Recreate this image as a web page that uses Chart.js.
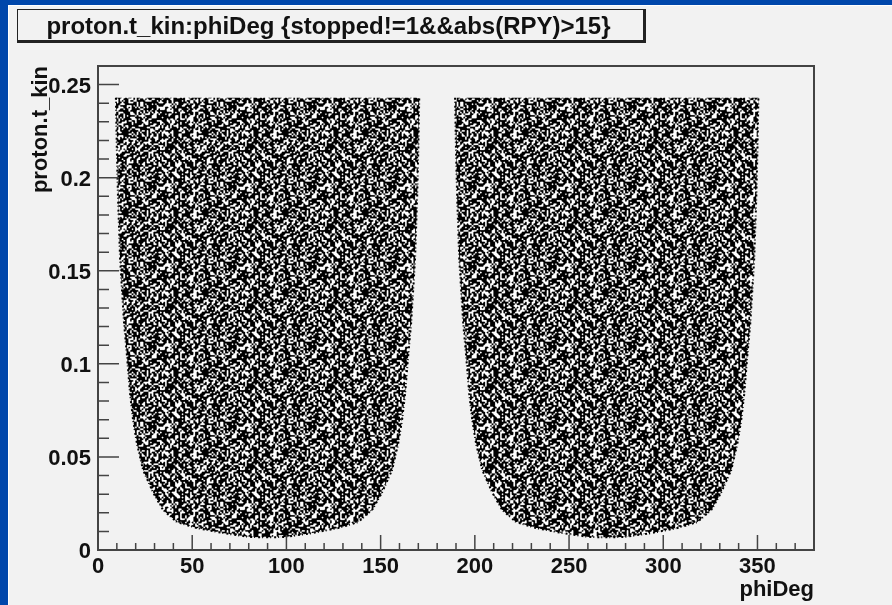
<!DOCTYPE html>
<html lang="en">
<head>
<meta charset="UTF-8">
<title>proton.t_kin:phiDeg</title>
<style>
  html, body { margin: 0; height: 100%; background: #0047ab; overflow: hidden; }
  #panel { position: absolute; left: 8px; top: 5px; width: 884px; height: 600px; background: #f2f2f2; border-top: 1px solid #fff; border-left: 1px solid #fff; box-sizing: border-box; }
  #myChart { position: absolute; left: 0; top: 0; }
  #title { position: absolute; left: 17px; top: 9px; width: 621px; height: 30px; padding-right: 4px; border: 1px solid #222; border-right-width: 3px; border-bottom-width: 3px; font: bold 24px "Liberation Sans", sans-serif; line-height: 32px; text-align: center; color: #111; white-space: nowrap; }
</style>
</head>
<body>
<div id="panel"></div>
<canvas id="myChart" width="892" height="605"></canvas>
<div id="title">proton.t_kin:phiDeg {stopped!=1&amp;&amp;abs(RPY)&gt;15}</div>
<script src="https://cdn.jsdelivr.net/npm/chart.js"></script>
<script>
// outline of the two lobes (phiDeg, proton.t_kin)
const leftPhi  = [9.5, 10, 10.6, 11.7, 12.7, 13.8, 15.4, 17, 18.6, 20.7, 23.9, 29.2, 34.5, 41.9, 52.5, 66.3, 80.6, 90, 99.4, 113.7, 127.5, 138.1, 145.5, 150.8, 156.1, 159.3, 161.4, 163, 164.6, 166.2, 167.3, 168.3, 169.4, 170, 170.5];
const leftKin  = [0.243, 0.215, 0.19, 0.157, 0.14, 0.122, 0.104, 0.084, 0.07, 0.057, 0.043, 0.031, 0.0215, 0.015, 0.0118, 0.0091, 0.007, 0.0068, 0.007, 0.0091, 0.0118, 0.015, 0.0215, 0.031, 0.043, 0.057, 0.07, 0.084, 0.104, 0.122, 0.14, 0.157, 0.19, 0.215, 0.243];
const rightPhi = [189.5, 190, 190.6, 191.7, 192.7, 193.8, 195.4, 197, 198.6, 200.7, 203.9, 209.2, 214.5, 221.9, 232.5, 246.3, 260.6, 270, 279.4, 293.7, 307.5, 318.1, 325.5, 330.8, 336.1, 339.3, 341.4, 343, 344.6, 346.2, 347.3, 348.3, 349.4, 350, 350.5];
const rightKin = [0.243, 0.215, 0.19, 0.157, 0.14, 0.122, 0.104, 0.084, 0.07, 0.057, 0.043, 0.031, 0.0215, 0.015, 0.0118, 0.0091, 0.007, 0.0068, 0.007, 0.0091, 0.0118, 0.015, 0.0215, 0.031, 0.043, 0.057, 0.07, 0.084, 0.104, 0.122, 0.14, 0.157, 0.19, 0.215, 0.243];

const xMajor = [0, 50, 100, 150, 200, 250, 300, 350];
const yMajor = [0, 0.05, 0.1, 0.15, 0.2, 0.25];
const yLabels = ['0', '0.05', '0.1', '0.15', '0.2', '0.25'];

// speckle texture for the dense marker cloud, just a fill style (1 = black cell)
const speckle = [
  'b7d3e96fa5c7','6e9b75d2fb38','d35fa7c96e1b','79ce3bd5a7f6','e6b1f78d93ad','5bd79e26cf75',
  'a7e3d5b8f69c','f29c6eb7d351','3db7a5e9c6f7','c6f1d97b3ea5','97e5ac3fd6b2','6b3de7f1a9c5',
  'edf592b67c3a','1a7fc6d3e9b7','b96e3fa5d7c2','7dc2b9e6f153','e35ad7c19bf6','5cf69b3e7da2',
  '9ab7e1d6c3f7','f63cd5a97eb1','2e9f7b6dc5a3','d7a1e3fb96c5','68d5c7ae3bf9','b3fe9621d7c5',
  'c97d3ba6e5f1','75e2f9d3b6ac','ae6bc51f7d39','1fd9a7e3c6b5','d6b3f9c52ea7','93c7e6ad7b1f',
  'fa51d7b96c3e','3e7c9fb5d6a1','b6da2e7c3f95','e91f5ca6db73','57bda3f6e9c1','cd36e9b7a1f5',
  'a97f1d5e6c3b','6c3ea9f7b5d2','f5d7b36ca91e','19ae7dc5f3b6','d7f3c6a2e9b5','be95d1f7a36c',
  '7ac63fe5b9d1','e3d79ab61f5c','c5b1f6e3d7a9','3f9e7d5ac6b2','a6d2c9f17be5','d9e7b35f6ca1'
];
// per row slide of the texture so its columns don't line up into stripes
const speckleSlide = [
  7, 31, 18, 42, 3, 26, 39, 11, 22, 45, 14, 35, 1, 29, 9, 40,
  20, 5, 33, 16, 44, 24, 12, 37, 2, 27, 47, 8, 19, 41, 30, 6,
  36, 15, 25, 43, 10, 32, 4, 21, 46, 13, 28, 38, 0, 17, 34, 23
];

function speckleFill() {
  // cells drawn 1px each, then scaled up with smoothing to get the soft look of the original
  const raw = document.createElement('canvas');
  raw.width = raw.height = 48;
  const r = raw.getContext('2d');
  r.fillStyle = '#fff';
  r.fillRect(0, 0, 48, 48);
  r.fillStyle = '#000';
  speckle.forEach((row, y) => {
    row.split('').forEach((h, i) => {
      const v = parseInt(h, 16);
      for (let b = 0; b < 4; b++) {
        if (v & (8 >> b)) r.fillRect((i * 4 + b + speckleSlide[y]) % 48, y, 1, 1);
      }
    });
  });
  const tile = document.createElement('canvas');
  tile.width = tile.height = 80;
  const t = tile.getContext('2d');
  t.imageSmoothingEnabled = true;
  t.filter = 'contrast(1.5)';
  t.drawImage(raw, 0, 0, 80, 80);
  return t.createPattern(tile, 'repeat');
}

const toPoints = (xs, ys) => xs.map((x, i) => ({ x: x, y: ys[i] }));

// ROOT style inner ticks and frame
const rootFrame = {
  id: 'rootFrame',
  afterDraw(chart) {
    const { ctx, chartArea: a, scales: { x, y } } = chart;
    ctx.save();
    ctx.strokeStyle = '#444';
    ctx.lineWidth = 2;
    ctx.strokeRect(a.left, a.top, a.right - a.left, a.bottom - a.top);
    ctx.lineWidth = 1.5;
    ctx.beginPath();
    for (let v = 0; v <= 380; v += 10) {
      const px = x.getPixelForValue(v);
      ctx.moveTo(px, a.bottom);
      ctx.lineTo(px, a.bottom - (v % 50 === 0 ? 15 : 7));
    }
    for (let i = 0; i <= 25; i++) {
      const py = y.getPixelForValue(i / 100);
      ctx.moveTo(a.left, py);
      ctx.lineTo(a.left + (i % 5 === 0 ? 21 : 11), py);
    }
    ctx.stroke();
    ctx.restore();
  }
};

const tickFont = { family: '"Liberation Sans", sans-serif', weight: 'bold', size: 22, lineHeight: 1 };
const cloud = speckleFill();
const lobe = (xs, ys) => ({
  data: toPoints(xs, ys),
  showLine: true,
  fill: 'shape',
  backgroundColor: cloud,
  borderColor: '#000',
  borderWidth: 2,
  borderDash: [2, 2, 1, 3],
  pointRadius: 0,
  tension: 0
});

new Chart(document.getElementById('myChart'), {
  type: 'scatter',
  data: { datasets: [lobe(leftPhi, leftKin), lobe(rightPhi, rightKin)] },
  options: {
    responsive: false,
    animation: false,
    layout: { padding: { left: 0, top: 66, right: 78, bottom: 0 } },
    plugins: { legend: { display: false }, tooltip: { enabled: false }, title: { display: false } },
    scales: {
      x: {
        type: 'linear', min: 0, max: 380,
        afterFit: s => { s.height = 55; },
        afterBuildTicks: s => { s.ticks = xMajor.map(v => ({ value: v })); },
        grid: { display: false }, border: { display: false },
        ticks: { font: tickFont, color: '#111', padding: -2, maxRotation: 0, autoSkip: false },
        title: { display: true, text: 'phiDeg', align: 'end', color: '#111', font: { family: tickFont.family, weight: 'bold', size: 22 }, padding: { top: 0, bottom: 2 } }
      },
      y: {
        type: 'linear', min: 0, max: 0.26,
        afterFit: s => { s.width = 98; },
        afterBuildTicks: s => { s.ticks = yMajor.map(v => ({ value: v })); },
        grid: { display: false }, border: { display: false },
        ticks: {
          font: tickFont, color: '#111', padding: -1, labelOffset: 2, autoSkip: false,
          callback: (v) => yLabels[yMajor.indexOf(v)]
        },
        title: { display: true, text: 'proton.t_kin', align: 'end', color: '#111', font: { family: tickFont.family, weight: 'bold', size: 22 }, padding: { top: 28, bottom: 0 } }
      }
    }
  },
  plugins: [rootFrame]
});
</script>
</body>
</html>
